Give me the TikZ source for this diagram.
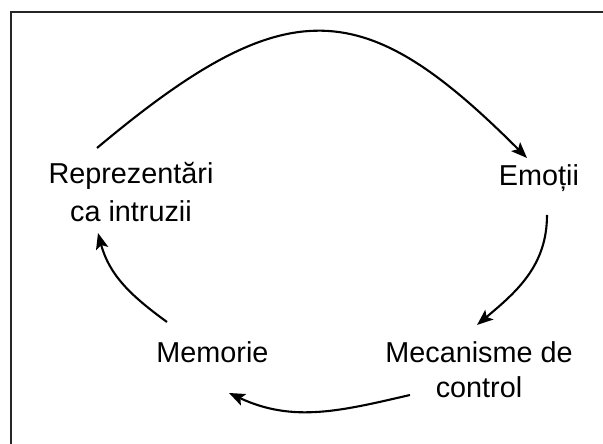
\documentclass[tikz,border=0pt]{standalone}
\usepackage{fontspec}
\setmainfont{Liberation Sans}
\usetikzlibrary{arrows.meta,calc}
\begin{document}
\begin{tikzpicture}[x=1pt,y=1pt,
  lbl/.style={inner sep=0pt, align=center, font=\fontsize{28.8}{37}\selectfont},
  flow/.style={line width=2.1pt, -{Stealth[length=16pt,width=12.5pt,inset=3.5pt]}}]
\useasboundingbox (0,0) rectangle (603,444);
% frame edges
\draw[line width=1.3pt, black!85] (11,0) -- (11,432) -- (603,432);
% labels of the cycle (base anchor = baseline of the last line)
\node[lbl, anchor=base, font=\fontsize{28.8}{38}\selectfont] (rep) at (131,222) {Reprezentări\\ca intruzii};
\node[lbl, anchor=base] (emo) at (539,258) {Emoții};
\node[lbl, anchor=base, font=\fontsize{28.8}{35}\selectfont] (mec) at (479,46) {Mecanisme de\\control};
\node[lbl, anchor=base] (mem) at (212.5,81) {Memorie};
% connectors
\draw[flow] ($(rep.base)+(-34,74)$) to[out=40,in=135,out distance=250,in distance=230] ($(emo.base)+(-12,28)$);
\draw[flow] ($(emo.base)+(8,-29)$) to[out=-90,in=40] ($(mec.base)+(-2,73)$);
\draw[flow] ($(mec.base)+(-69,3)$) to[out=193,in=-25] ($(mem.base)+(16.5,-30)$);
\draw[flow] ($(mem.base)+(-45.5,41)$) to[out=144,in=-75] ($(rep.base)+(-33,-11)$);
\end{tikzpicture}
\end{document}
